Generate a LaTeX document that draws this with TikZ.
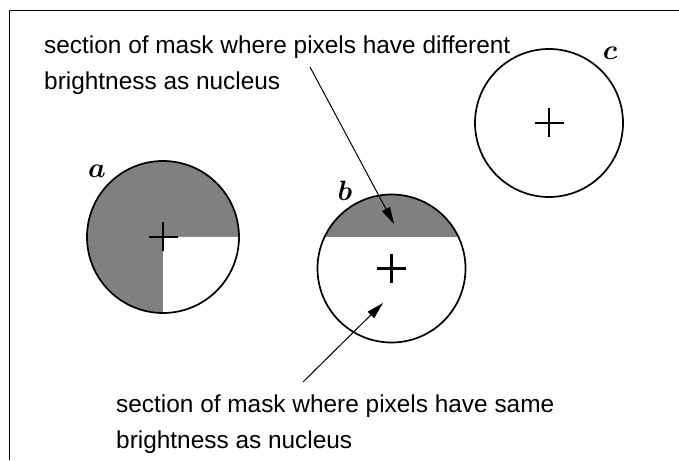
\RequirePackage{fix-cm}
\documentclass[tikz,border=0pt]{standalone}
\usepackage{fontspec}
\usepackage{amsmath,amssymb,bm}
\setmainfont{Liberation Sans}
\usetikzlibrary{arrows.meta,calc}
\begin{document}
\begin{tikzpicture}[x=1pt,y=1pt,
  ring/.style={line width=1.7pt},
  shade/.style={fill=black!50},
  crossline/.style={line width=2.2pt},
  lbl/.style={inner sep=0pt,anchor=base west,font=\fontsize{24.4}{28}\selectfont},
  circlbl/.style={inner sep=0pt,font=\fontsize{28}{30}\selectfont},
  pointer/.style={line width=1pt,-{Triangle[length=17pt,width=9pt]}}]
\useasboundingbox (0,0) rectangle (679,460);
% frame
\draw[line width=0.8pt] (9,0) -- (9,450) -- (679,450);
% circle a
\coordinate (ca) at (163,223);
\fill[shade] (ca) circle[radius=76];
\fill[white] (ca) -- ++(76,0) arc[start angle=0,end angle=-90,radius=76] -- cycle;
\draw[ring] (ca) circle[radius=76];
\draw[crossline] ($(ca)+(-14.5,0)$) -- ($(ca)+(14.5,0)$);
\draw[crossline] ($(ca)+(0,-14.5)$) -- ($(ca)+(0,14.5)$);
% circle b
\coordinate (cb) at (391.5,191.5);
\begin{scope}
\clip (cb) circle[radius=74];
\fill[shade] ($(cb)+(-80,31.8)$) rectangle ($(cb)+(80,80)$);
\end{scope}
\draw[ring] (cb) circle[radius=74];
\draw[crossline] ($(cb)+(-14.5,0)$) -- ($(cb)+(14.5,0)$);
\draw[crossline] ($(cb)+(0,-14.5)$) -- ($(cb)+(0,14.5)$);
% circle c
\coordinate (cc) at (549,337);
\draw[ring] (cc) circle[radius=74];
\draw[crossline] ($(cc)+(-14.5,0)$) -- ($(cc)+(14.5,0)$);
\draw[crossline] ($(cc)+(0,-14.5)$) -- ($(cc)+(0,14.5)$);
% circle labels
\node[circlbl] (la) at (97,289) {$\bm{a}$};
\node[circlbl] (lb) at (345,269) {$\bm{b}$};
\node[circlbl] (lc) at (610,407) {$\bm{c}$};
% texts
\node[lbl] (t1a) at (44,406.7) {section of mask where pixels have different};
\node[lbl] (t1b) at (44,370.7) {brightness as nucleus};
\node[lbl] (t2a) at (116,47) {section of mask where pixels have same};
\node[lbl] (t2b) at (116,12) {brightness as nucleus};
% pointers
\coordinate (p1s) at (310,393);
\coordinate (p1e) at (394,236);
\coordinate (p2s) at (303,78);
\coordinate (p2e) at (383,157);
\draw[pointer] (p1s) -- (p1e);
\draw[pointer] (p2s) -- (p2e);
\end{tikzpicture}
\end{document}
